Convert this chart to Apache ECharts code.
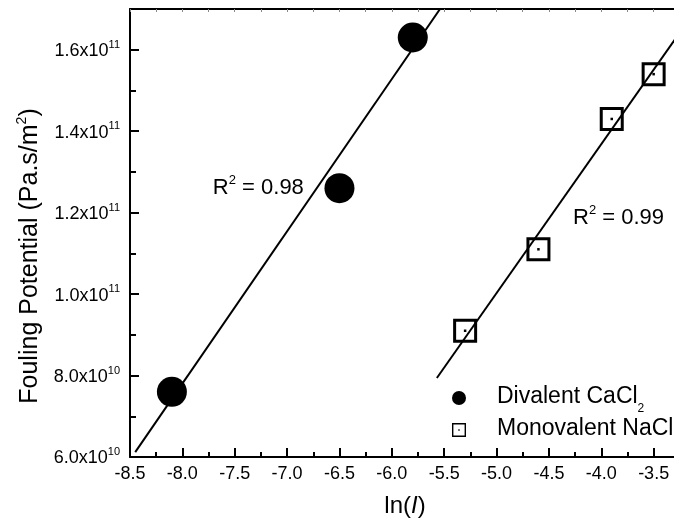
<!DOCTYPE html>
<html><head><meta charset="utf-8">
<script src="https://cdn.jsdelivr.net/npm/echarts@6/dist/echarts.min.js"></script>
<style>html,body{margin:0;padding:0;background:#fff}#c{width:674px;height:527px}</style>
</head><body><div id="c"></div>
<script>
// ---- data ----
const divalentName = 'Divalent CaCl2';
const monovalentName = 'Monovalent NaCl';
const divalentX = [-8.1, -6.5, -5.8];
const divalentY = [7.6e10, 1.26e11, 1.63e11];
const monovalentX = [-5.3, -4.6, -3.9, -3.5];
const monovalentY = [9.1e10, 1.11e11, 1.43e11, 1.54e11];
// fitted lines (end points)
const divalentFitX = [-8.45, -5.54];
const divalentFitY = [6.12e10, 1.70e11];
const monovalentFitX = [-5.57, -3.1];
const monovalentFitY = [7.94e10, 1.697e11];
// R^2 annotations
const r2Text = ['0.98', '0.99'];
const r2X = [-6.84, -4.27];
const r2Y = [1.265e11, 1.19e11];
const r2Side = ['left', 'right'];

const FONT = '"Liberation Sans", Arial, sans-serif';
const zip = (a, b) => a.map((v, i) => [v, b[i]]);

const chart = echarts.init(document.getElementById('c'), null, {renderer: 'canvas'});
const axisLineStyle = {color: '#000', width: 2};

chart.setOption({
  animation: false,
  backgroundColor: '#fff',
  grid: {left: 130, top: 9, width: 576, height: 448, containLabel: false, outerBoundsMode: 'none'},
  xAxis: [{
    type: 'value', min: -8.5, max: -3.0, interval: 0.5, position: 'bottom',
    axisLine: {onZero: false, lineStyle: axisLineStyle},
    axisTick: {inside: true, length: 9, lineStyle: axisLineStyle},
    minorTick: {show: true, splitNumber: 2, length: 5, lineStyle: axisLineStyle},
    splitLine: {show: false},
    axisLabel: {fontSize: 18, color: '#000', fontFamily: FONT, margin: 8,
      formatter: v => v.toFixed(1)},
    name: '{a|ln(}{i|I}{a|)}', nameLocation: 'middle', nameGap: 37,
    nameTextStyle: {padding: [0, 26, 0, 0], rich: {
      a: {fontSize: 24, fontFamily: FONT, color: '#000'},
      i: {fontSize: 24, fontFamily: FONT, color: '#000', fontStyle: 'italic'}
    }}
  }, {
    type: 'value', min: -8.5, max: -3.0, interval: 0.25, position: 'top',
    axisLine: {onZero: false, lineStyle: axisLineStyle},
    axisTick: {inside: true, length: 3, lineStyle: {color: '#888', width: 1}},
    axisLabel: {show: false}, splitLine: {show: false}
  }],
  yAxis: [{
    type: 'value', min: 6e10, max: 1.7e11, interval: 2e10,
    axisLine: {onZero: false, lineStyle: axisLineStyle},
    axisTick: {inside: true, length: 9, lineStyle: axisLineStyle},
    minorTick: {show: true, splitNumber: 2, length: 6, lineStyle: axisLineStyle},
    splitLine: {show: false},
    axisLabel: {showMaxLabel: false, margin: 10,
      formatter: v => {
        const e = Math.floor(Math.log10(v) + 1e-9);
        const m = (v / Math.pow(10, e)).toFixed(1);
        return '{m|' + m + 'x10}{e|' + e + '}';
      },
      rich: {
        m: {fontSize: 18, fontFamily: FONT, color: '#000', lineHeight: 21, verticalAlign: 'bottom'},
        e: {fontSize: 11, fontFamily: FONT, color: '#000', lineHeight: 11, verticalAlign: 'top'}
      }
    },
    name: '{a|Fouling Potential (Pa.s/m}{s|2}{a|)}', nameLocation: 'middle', nameGap: 84,
    nameTextStyle: {padding: [0, 46, 0, 0], rich: {
      a: {fontSize: 25, fontFamily: FONT, color: '#000', lineHeight: 28, verticalAlign: 'bottom'},
      s: {fontSize: 14, fontFamily: FONT, color: '#000', lineHeight: 14, verticalAlign: 'top'}
    }}
  }],
  legend: {
    orient: 'vertical', left: 447, top: 380, itemWidth: 14, itemHeight: 14, itemGap: 2,
    selectedMode: false,
    data: [
      {name: divalentName, icon: 'circle', itemStyle: {color: '#000', borderWidth: 0}},
      {name: monovalentName,
       icon: 'path://M0,0L12,0L12,12L0,12Z M1.2,1.2L1.2,10.8L10.8,10.8L10.8,1.2Z M5.4,5.4L6.6,5.4L6.6,6.6L5.4,6.6Z',
       itemStyle: {color: '#000', borderWidth: 0}}
    ],
    formatter: name => name === divalentName
      ? '{t|Divalent CaCl}{b|2}'
      : '{t|Monovalent NaCl}',
    textStyle: {color: '#000', fontFamily: FONT, fontSize: 23, rich: {
      t: {fontSize: 23, fontFamily: FONT, color: '#000', lineHeight: 26, verticalAlign: 'top', padding: [0, 0, 0, 26]},
      b: {fontSize: 12, fontFamily: FONT, color: '#000', lineHeight: 12, verticalAlign: 'top', padding: [18, 0, 0, 0]}
    }}
  },
  series: [
    {type: 'line', name: 'fitD', data: zip(divalentFitX, divalentFitY), showSymbol: false, symbol: 'none',
     silent: true, lineStyle: {color: '#000', width: 2}, z: 1},
    {type: 'line', name: 'fitM', data: zip(monovalentFitX, monovalentFitY), showSymbol: false, symbol: 'none',
     silent: true, lineStyle: {color: '#000', width: 2}, z: 1},
    {type: 'scatter', name: divalentName, data: zip(divalentX, divalentY), symbol: 'circle', symbolSize: 30,
     itemStyle: {color: '#000', opacity: 1}, z: 3},
    {type: 'scatter', name: monovalentName, data: zip(monovalentX, monovalentY), symbol: 'rect', symbolSize: 21,
     itemStyle: {color: 'rgba(0,0,0,0)', borderColor: '#000', borderWidth: 3, opacity: 1}, z: 3},
    {type: 'scatter', name: 'dots', data: zip(monovalentX, monovalentY), symbol: 'rect', symbolSize: 2.5,
     itemStyle: {color: '#000', opacity: 1}, silent: true, z: 4},
    {type: 'scatter', name: 'r2', silent: true, symbolSize: 0, z: 5,
     itemStyle: {opacity: 1, color: '#000'},
     data: r2Text.map((t, i) => ({value: [r2X[i], r2Y[i]], txt: t,
       label: {show: true, position: r2Side[i], distance: 0}})),
     label: {show: true, color: '#000', formatter: p => '{a|R}{s|2}{a| = ' + p.data.txt + '}',
       rich: {
         a: {fontSize: 22, fontFamily: FONT, color: '#000', lineHeight: 25, verticalAlign: 'bottom'},
         s: {fontSize: 13, fontFamily: FONT, color: '#000', lineHeight: 13, verticalAlign: 'top'}
       }}
    }
  ]
});
</script>
</body></html>
